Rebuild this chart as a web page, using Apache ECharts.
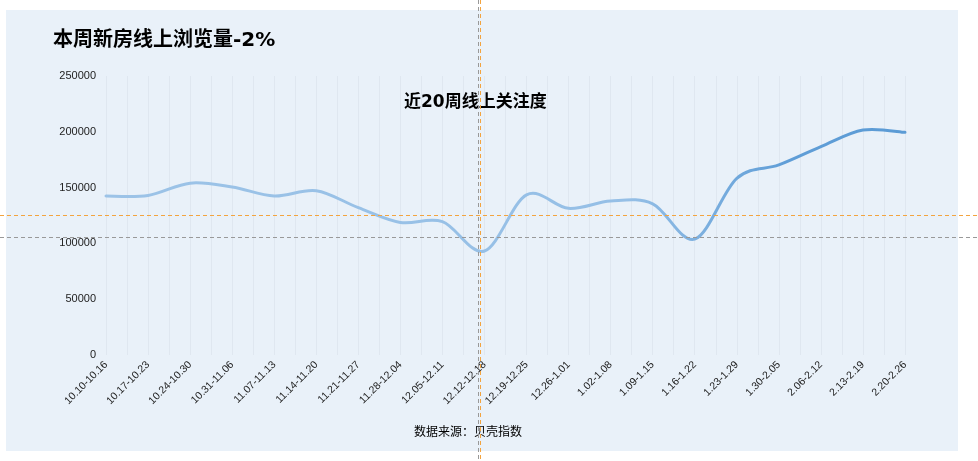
<!DOCTYPE html>
<html>
<head>
<meta charset="utf-8">
<script src="https://cdn.jsdelivr.net/npm/echarts@6/dist/echarts.min.js"></script>
<style>
html,body{margin:0;padding:0;background:#fff;}
#chart{width:978px;height:461px;}
</style>
</head>
<body>
<div id="chart"></div>
<script>
var categories = ['10.10-10.16','10.17-10.23','10.24-10.30','10.31-11.06','11.07-11.13','11.14-11.20','11.21-11.27','11.28-12.04','12.05-12.11','12.12-12.18','12.19-12.25','12.26-1.01','1.02-1.08','1.09-1.15','1.16-1.22','1.23-1.29','1.30-2.05','2.06-2.12','2.13-2.19','2.20-2.26'];
var views = [142500,143000,154000,150500,142500,147200,132000,118800,119500,93200,143500,131400,138000,135500,103800,158300,170300,186700,201600,199500];
var yTicks = [0,50000,100000,150000,200000,250000];
var titleText = '本周新房线上浏览量-2%';
var subTitleText = '近20周线上关注度';
var sourceText = '数据来源：贝壳指数';

var FONT = '"Liberation Sans", "Noto Sans CJK SC", sans-serif';
var TFONT = '"DejaVu Sans", "Noto Sans CJK SC", sans-serif';
var chart = echarts.init(document.getElementById('chart'), null, {renderer:'canvas'});

var lineGradient = new echarts.graphic.LinearGradient(0, 0, 1, 0, [
  {offset: 0, color: '#9cc3e7'},
  {offset: 0.65, color: '#95bfe6'},
  {offset: 0.85, color: '#609ed7'},
  {offset: 1, color: '#5b9bd5'}
]);

// Catmull-Rom spline through the data points, positioned via the axes' scales
function renderSpline(params, api) {
  var pts = [];
  for (var i = 0; i < views.length; i++) {
    pts.push(api.coord([i, views[i]]));
  }
  var d = 'M' + pts[0][0] + ' ' + pts[0][1];
  for (var k = 0; k < pts.length - 1; k++) {
    var p0 = pts[Math.max(k - 1, 0)], p1 = pts[k], p2 = pts[k + 1], p3 = pts[Math.min(k + 2, pts.length - 1)];
    var c1x = p1[0] + (p2[0] - p0[0]) / 6, c1y = p1[1] + (p2[1] - p0[1]) / 6;
    var c2x = p2[0] - (p3[0] - p1[0]) / 6, c2y = p2[1] - (p3[1] - p1[1]) / 6;
    d += ' C' + c1x + ' ' + c1y + ' ' + c2x + ' ' + c2y + ' ' + p2[0] + ' ' + p2[1];
  }
  return {
    type: 'path',
    shape: {pathData: d},
    style: {fill: 'none', stroke: lineGradient, lineWidth: 3, lineCap: 'round', lineJoin: 'round'}
  };
}

var option = {
  backgroundColor: '#ffffff',
  animation: false,
  title: [
    {text: titleText, left: 48, top: 26, textStyle: {fontSize: 20, fontWeight: 'bold', color: '#000', fontFamily: TFONT}},
    {text: subTitleText, left: 399, top: 89, textStyle: {fontSize: 17, fontWeight: 'bold', color: '#000', fontFamily: TFONT}},
    {text: sourceText, left: 409, top: 422, textStyle: {fontSize: 12, fontWeight: 'normal', color: '#000', fontFamily: FONT}}
  ],
  grid: {left: 106, right: 73, top: 76, bottom: 106},
  xAxis: [
    {
      type: 'category', data: categories, boundaryGap: false,
      axisLine: {show: false}, axisTick: {show: false},
      splitLine: {show: false},
      axisLabel: {rotate: 45, interval: 0, margin: 8, fontSize: 10.5, color: '#222', fontFamily: FONT}
    },
    {
      type: 'value', min: 0, max: (categories.length - 1) * 2, interval: 1, position: 'bottom',
      axisLine: {show: false}, axisTick: {show: false}, axisLabel: {show: false},
      splitLine: {show: true, lineStyle: {color: '#dfe7f0', width: 1}}
    }
  ],
  yAxis: {
    type: 'value', min: yTicks[0], max: yTicks[yTicks.length - 1], interval: yTicks[1] - yTicks[0],
    axisLine: {show: false}, axisTick: {show: false}, splitLine: {show: false},
    axisLabel: {margin: 10, fontSize: 11, color: '#222', fontFamily: FONT, formatter: function (v) { return String(v); }}
  },
  series: [{
    type: 'custom', xAxisIndex: 0, yAxisIndex: 0, data: [[0, views[0]]],
    renderItem: renderSpline, clip: false, silent: true
  }],
  graphic: [
    {type: 'rect', z: -10, silent: true, shape: {x: 6, y: 10, width: 952, height: 441}, style: {fill: '#e9f1f9'}},
    {type: 'line', z: 100, silent: true, shape: {x1: 0, y1: 215.5, x2: 978, y2: 215.5}, style: {stroke: '#f3a43f', lineWidth: 1, lineDash: [4, 3]}},
    {type: 'line', z: 100, silent: true, shape: {x1: 0, y1: 237.5, x2: 978, y2: 237.5}, style: {stroke: '#999999', lineWidth: 1, lineDash: [4, 3]}},
    {type: 'line', z: 100, silent: true, shape: {x1: 478.5, y1: 0, x2: 478.5, y2: 461}, style: {stroke: '#999999', lineWidth: 1, lineDash: [4, 3]}},
    {type: 'line', z: 100, silent: true, shape: {x1: 480.5, y1: 0, x2: 480.5, y2: 461}, style: {stroke: '#f3a43f', lineWidth: 1, lineDash: [4, 3]}}
  ]
};
chart.setOption(option);
</script>
</body>
</html>
